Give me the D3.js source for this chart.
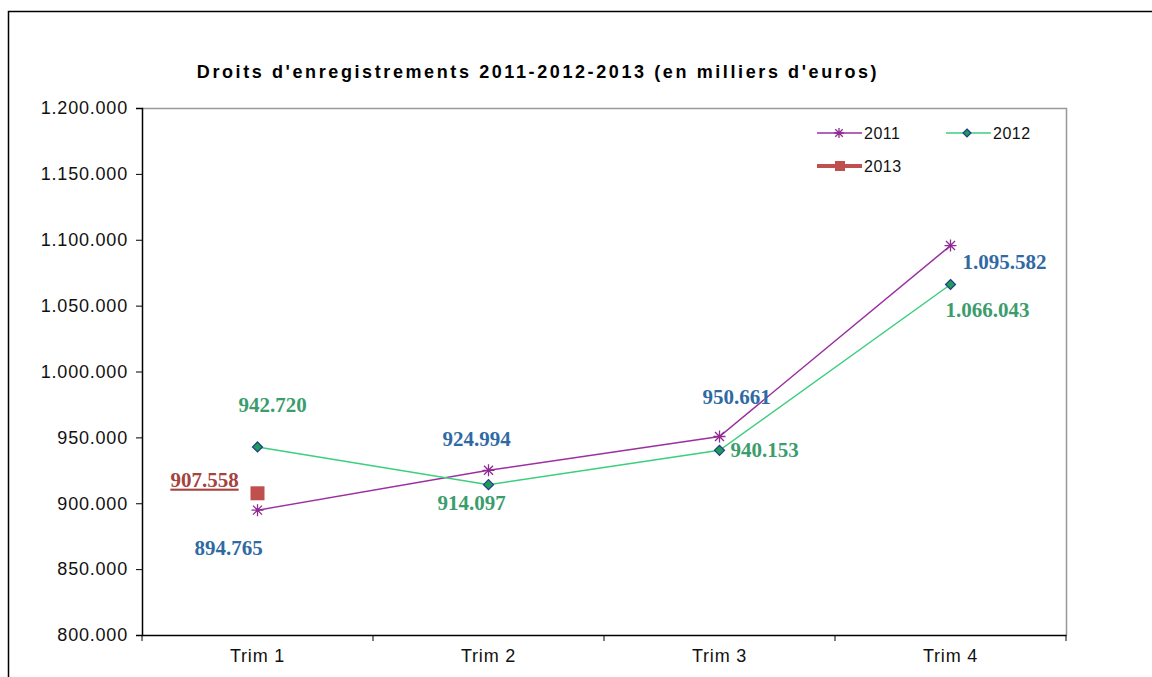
<!DOCTYPE html>
<html>
<head>
<meta charset="utf-8">
<script src="https://cdn.jsdelivr.net/npm/d3@7"></script>
<style>
  body { margin: 0; background: #fff; }
  svg text { font-family: "Liberation Sans", Arial, sans-serif; }
  .tick text { font-size: 18px; fill: #111; letter-spacing: 0.8px; }
  .val { font-family: "Liberation Serif", "Times New Roman", serif !important; font-weight: bold; font-size: 21px; }
</style>
</head>
<body>
<svg width="1152" height="677"></svg>
<script>
// data
var categories = ["Trim 1", "Trim 2", "Trim 3", "Trim 4"];
var values2011 = [894765, 924994, 950661, 1095582];
var values2012 = [942720, 914097, 940153, 1066043];
var values2013 = [907558];
var yTicks = [800000, 850000, 900000, 950000, 1000000, 1050000, 1100000, 1150000, 1200000];

// label offsets (dx, dy from point) per series
var off2011 = [[-29, 38], [-12, -32], [17, -40], [54, 16]];
var off2012 = [[15, -42], [-17, 18], [45, -1], [37, 25]];
var off2013 = [[-53, -14]];

var fmt = function(v) { return d3.format(",")(v).replace(/,/g, "."); };

var svg = d3.select("svg");

// outer frame
svg.append("rect")
    .attr("x", 8.5).attr("y", 11.5)
    .attr("width", 1160).attr("height", 700)
    .attr("fill", "none").attr("stroke", "#000").attr("stroke-width", 1.5);

var pLeft = 142, pRight = 1066, pTop = 108, pBottom = 635;

var x = d3.scaleBand().domain(categories).range([pLeft, pRight]);
var y = d3.scaleLinear().domain([800000, 1200000]).range([pBottom, pTop]);

// plot area border (grey top/right)
svg.append("path")
    .attr("d", "M" + pLeft + "," + (pTop + 0.5) + "H" + (pRight + 0.5) + "V" + pBottom)
    .attr("fill", "none").attr("stroke", "#999").attr("stroke-width", 1.5);

// y axis
var yAxis = svg.append("g")
    .attr("transform", "translate(" + pLeft + ",0)")
    .call(d3.axisLeft(y).tickValues(yTicks).tickSize(6).tickPadding(8).tickFormat(fmt));
yAxis.select(".domain").attr("stroke", "#000").attr("stroke-width", 1.5);
yAxis.selectAll(".tick line").attr("stroke", "#000");

// x axis
var xAxis = svg.append("g")
    .attr("transform", "translate(0," + pBottom + ")")
    .call(d3.axisBottom(x).tickSize(0).tickPadding(16));
xAxis.select(".domain").attr("stroke", "#000").attr("stroke-width", 1.5);
xAxis.selectAll(".tick text").attr("dy", "0.6em");
var bounds = [pLeft].concat(categories.map(function(c) { return x(c) + x.bandwidth(); }));
xAxis.selectAll(".xt").data(bounds).enter().append("line")
    .attr("x1", function(d) { return d; }).attr("x2", function(d) { return d; })
    .attr("y1", 0).attr("y2", 6).attr("stroke", "#000");

// title
svg.append("text")
    .attr("x", 538).attr("y", 78).attr("text-anchor", "middle")
    .style("font-size", "18px").style("font-weight", "bold").style("letter-spacing", "2.6px")
    .text("Droits d'enregistrements 2011-2012-2013 (en milliers d'euros)");

function px(i) { return x(categories[i]) + x.bandwidth() / 2; }

var line = d3.line().x(function(d, i) { return px(i); }).y(function(d) { return y(d); });

// series 2011
svg.append("path").datum(values2011).attr("d", line)
    .attr("fill", "none").attr("stroke", "#9b30a0").attr("stroke-width", 1.5);
// series 2012
svg.append("path").datum(values2012).attr("d", line)
    .attr("fill", "none").attr("stroke", "#3ccf7e").attr("stroke-width", 1.5);

function star(g, cx, cy, s) {
    var p = "M" + (cx - s) + "," + cy + "H" + (cx + s) +
            "M" + cx + "," + (cy - s) + "V" + (cy + s) +
            "M" + (cx - s * 0.75) + "," + (cy - s * 0.75) + "L" + (cx + s * 0.75) + "," + (cy + s * 0.75) +
            "M" + (cx - s * 0.75) + "," + (cy + s * 0.75) + "L" + (cx + s * 0.75) + "," + (cy - s * 0.75);
    g.append("path").attr("d", p).attr("stroke", "#8e2a93").attr("stroke-width", 1.3).attr("fill", "none");
}
function diamond(g, cx, cy, s) {
    g.append("path")
        .attr("d", "M" + cx + "," + (cy - s) + "L" + (cx + s) + "," + cy + "L" + cx + "," + (cy + s) + "L" + (cx - s) + "," + cy + "Z")
        .attr("fill", "#1f9a58").attr("stroke", "#1f3d8c").attr("stroke-width", 1.2);
}

values2011.forEach(function(v, i) { star(svg, px(i), y(v), 6); });
values2012.forEach(function(v, i) { diamond(svg, px(i), y(v), 5); });
values2013.forEach(function(v, i) {
    svg.append("rect").attr("x", px(i) - 7).attr("y", y(v) - 7)
        .attr("width", 14).attr("height", 14).attr("fill", "#c0504d");
});

// value labels
function labels(vals, offs, color, underline) {
    vals.forEach(function(v, i) {
        svg.append("text").attr("class", "val")
            .attr("x", px(i) + offs[i][0]).attr("y", y(v) + offs[i][1])
            .attr("text-anchor", "middle").attr("dy", "0.35em")
            .attr("fill", color)
            .style("text-decoration", underline ? "underline" : null)
            .text(fmt(v));
    });
}
labels(values2011, off2011, "#2f6aa3", false);
labels(values2012, off2012, "#3b9d6c", false);
labels(values2013, off2013, "#a5433f", true);

// legend
var leg = svg.append("g").style("font-size", "16px").style("letter-spacing", "0.5px");
function legItem(lx, ly, name, kind) {
    if (kind === "2013") {
        leg.append("line").attr("x1", lx).attr("x2", lx + 45).attr("y1", ly).attr("y2", ly)
            .attr("stroke", "#c0504d").attr("stroke-width", 4);
        leg.append("rect").attr("x", lx + 18).attr("y", ly - 5).attr("width", 10).attr("height", 10).attr("fill", "#c0504d");
    } else {
        leg.append("line").attr("x1", lx).attr("x2", lx + 45).attr("y1", ly).attr("y2", ly)
            .attr("stroke", kind === "2011" ? "#9b30a0" : "#3ccf7e").attr("stroke-width", 1.5);
        if (kind === "2011") star(leg, lx + 22, ly, 5); else diamond(leg, lx + 21, ly, 4);
    }
    leg.append("text").attr("x", lx + 47).attr("y", ly).attr("dy", "0.35em").attr("fill", "#111").text(name);
}
legItem(817, 133, "2011", "2011");
legItem(946, 133, "2012", "2012");
legItem(817, 166, "2013", "2013");
</script>
</body>
</html>
